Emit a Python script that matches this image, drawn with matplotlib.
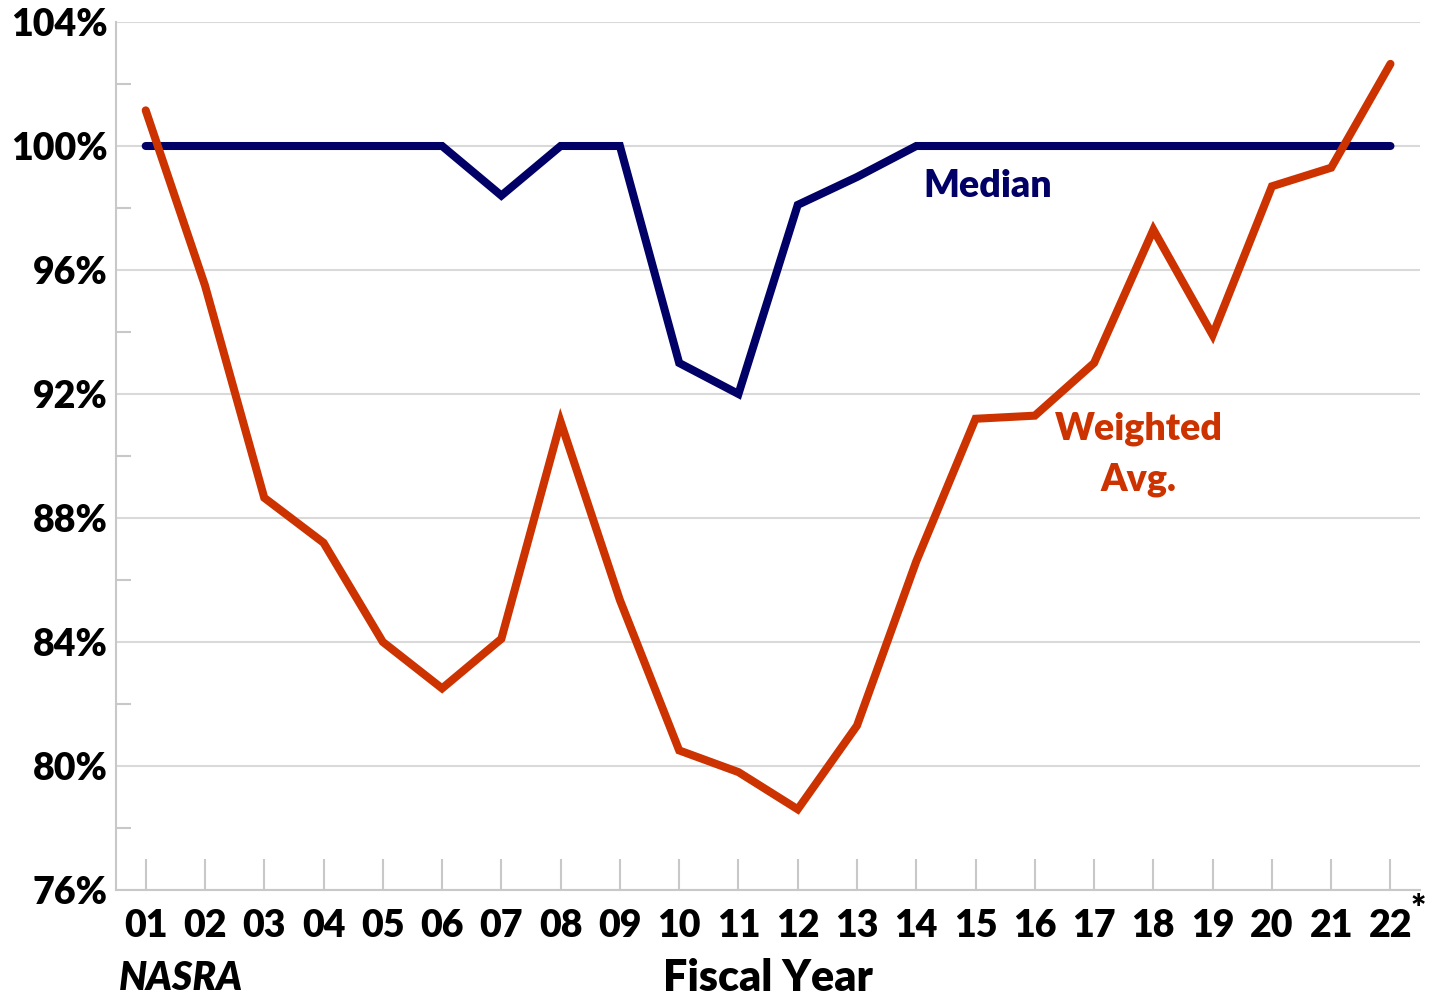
import numpy as np
import matplotlib.pyplot as plt

years = ["01", "02", "03", "04", "05", "06", "07", "08", "09", "10", "11",
         "12", "13", "14", "15", "16", "17", "18", "19", "20", "21", "22"]
median = [100, 100, 100, 100, 100, 100, 98.4, 100, 100, 93.0, 92.0,
          98.1, 99.0, 100, 100, 100, 100, 100, 100, 100, 100, 100]
weighted_avg = [101.15, 95.5, 88.65, 87.2, 84.0, 82.5, 84.1, 91.1, 85.35, 80.5, 79.8,
                78.6, 81.3, 86.6, 91.2, 91.3, 93.0, 97.3, 93.9, 98.7, 99.3, 102.65]

plt.rcParams['font.family'] = ['Lato', 'DejaVu Sans']
W = 'heavy'

fig = plt.figure(figsize=(14.33, 10.01), dpi=100)
ax = fig.add_axes([0.081, 0.111, 0.91, 0.867])

x = np.arange(1, len(years) + 1)
navy = "#000066"
orange = "#CC3300"
ax.plot(x, median, color=navy, lw=5.8, solid_capstyle='round', solid_joinstyle='miter', zorder=3)
ax.plot(x, weighted_avg, color=orange, lw=5.8, solid_capstyle='round', solid_joinstyle='miter', zorder=3)

ax.set_xlim(0.5, 22.5)
ax.set_ylim(76, 104)
ax.set_yticks(np.arange(76, 105, 4))
ax.set_yticks(np.arange(78, 104, 4), minor=True)
ax.set_yticklabels([f"{v}%" for v in range(76, 105, 4)], fontsize=27, fontweight=W)
ax.set_xticks(x)
ax.set_xticklabels(years, fontsize=27, fontweight=W)
ax.grid(axis='y', which='major', color='#d9d9d9', lw=1.5)
ax.set_axisbelow(True)

for s in ['top', 'right']:
    ax.spines[s].set_visible(False)
for s in ['left', 'bottom']:
    ax.spines[s].set_color('#c8c8c8')
    ax.spines[s].set_linewidth(1.5)
ax.tick_params(axis='x', direction='in', length=22, width=1.5, color='#c8c8c8', pad=14)
ax.tick_params(axis='y', which='major', length=0, pad=6)
ax.tick_params(axis='y', which='minor', direction='in', length=11, width=1.5, color='#c8c8c8')

fig.text(1418 / 1433, 1 - 910 / 1001, "*", fontsize=26, fontweight=W, ha='center', va='center')
ax.text(15.2, 98.7, "Median", color=navy, fontsize=27, fontweight=W, ha='center', va='center')
ax.text(17.75, 90.05, "Weighted\nAvg.", color=orange, fontsize=27, fontweight=W,
        ha='center', va='center', linespacing=1.6)
fig.text(768 / 1433, 1 - 978 / 1001, "Fiscal Year", fontsize=31, fontweight=W, ha='center', va='center')
fig.text(181 / 1433, 1 - 978 / 1001, "NASRA", fontsize=28, fontweight=W, style='italic',
         ha='center', va='center')

fig.savefig("out.png", dpi=100)
